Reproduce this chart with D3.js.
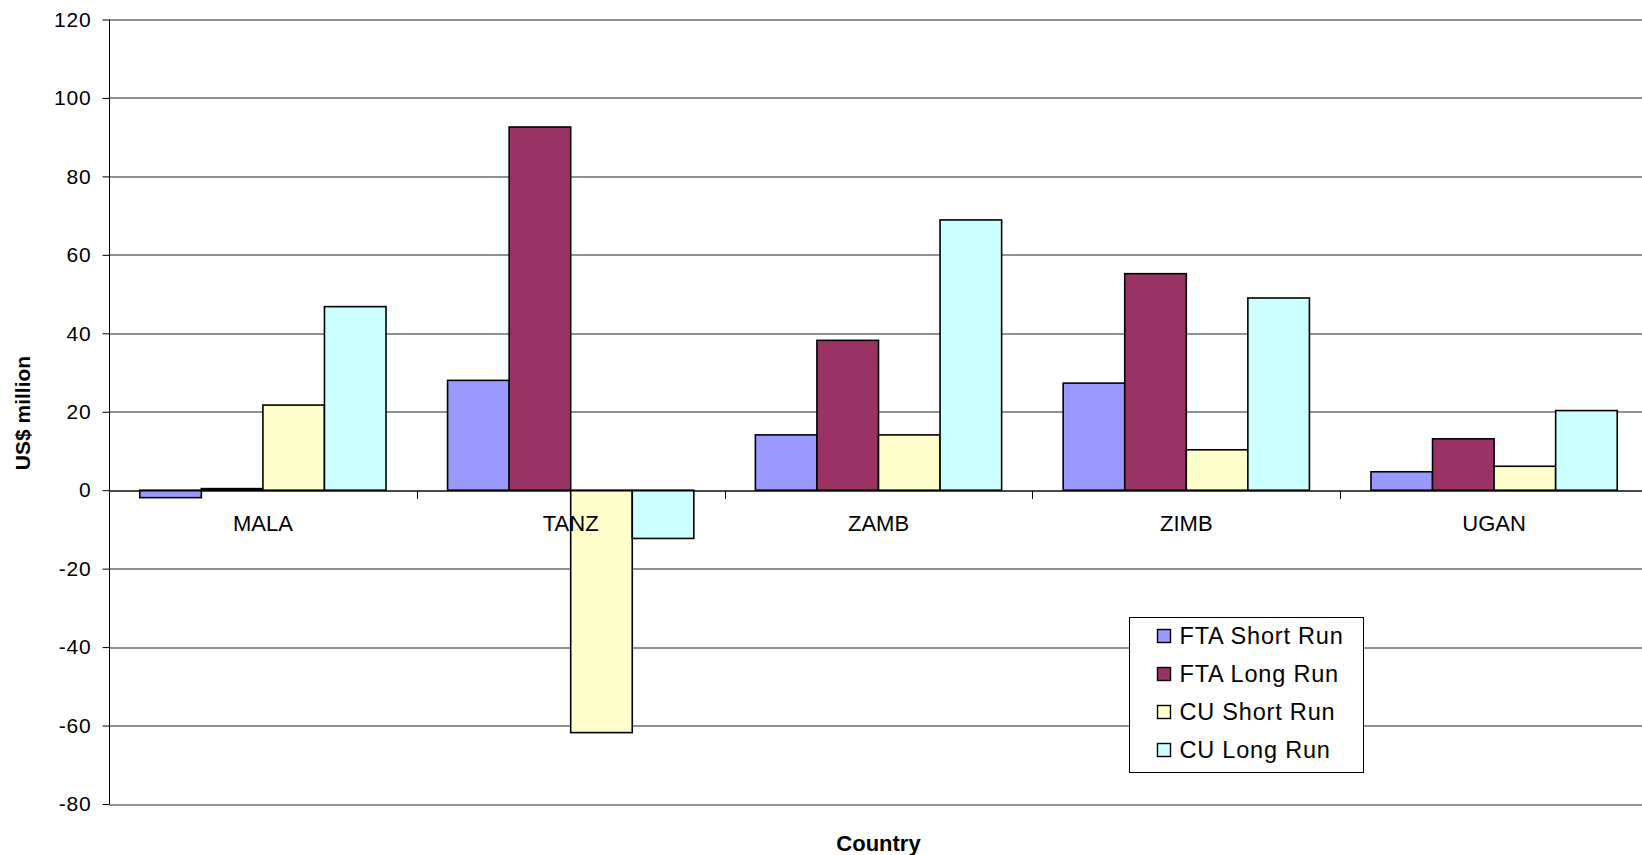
<!DOCTYPE html>
<html>
<head>
<meta charset="utf-8">
<script src="https://d3js.org/d3.v7.min.js"></script>
<style>
  body { margin: 0; background: #fff; }
  text { font-family: Arial, "Liberation Sans", sans-serif; fill: #000; }
</style>
</head>
<body>
<div id="chart"></div>
<script>
// data
var countries = ["MALA", "TANZ", "ZAMB", "ZIMB", "UGAN"];
var seriesNames = ["FTA Short Run", "FTA Long Run", "CU Short Run", "CU Long Run"];
var ftaShort = [-1.9, 28, 14.1, 27.3, 4.7];
var ftaLong = [0.4, 92.6, 38.2, 55.2, 13.1];
var cuShort = [21.7, -61.8, 14.1, 10.3, 6.1];
var cuLong = [46.8, -12.3, 68.9, 49.0, 20.3];
var yTicks = [-80, -60, -40, -20, 0, 20, 40, 60, 80, 100, 120];
var colors = ["#9999ff", "#993366", "#ffffcc", "#ccffff"];

var allSeries = [ftaShort, ftaLong, cuShort, cuLong];

// set the dimensions and margins of the graph
var margin = {top: 19.5, left: 109, right: 0, bottom: 51},
    fullWidth = 1642, fullHeight = 855,
    width = 1539,
    height = fullHeight - margin.top - margin.bottom;

var x0 = d3.scaleBand().domain(countries).range([0, width]).padding(0);
var x1 = d3.scaleBand().domain(seriesNames).range([0, x0.bandwidth()])
    .paddingInner(0).paddingOuter(0.5);
var y = d3.scaleLinear().domain([-80, 120]).range([height, 0]);

var svg = d3.select("#chart").append("svg")
    .attr("width", fullWidth)
    .attr("height", fullHeight)
    .append("g")
    .attr("transform", "translate(" + margin.left + "," + margin.top + ")");

// gridlines
svg.append("g").selectAll("line")
    .data(yTicks)
    .enter().append("line")
    .attr("x1", 0).attr("x2", width)
    .attr("y1", function (d) { return Math.round(y(d)) + 0.5; })
    .attr("y2", function (d) { return Math.round(y(d)) + 0.5; })
    .attr("stroke", "#222")
    .attr("stroke-width", 1);

// y axis
var yAxis = svg.append("g")
    .attr("transform", "translate(0.5,0)")
    .call(d3.axisLeft(y).tickValues(yTicks).tickSize(7).tickPadding(11)
        .tickFormat(function (d) { return String(d); }));
yAxis.selectAll("path, line").attr("stroke", "#000");
yAxis.selectAll("text").style("font-size", "21px")
    .style("letter-spacing", "0.8px")
    .style("font-family", "Arial, 'Liberation Sans', sans-serif");
yAxis.select(".domain").attr("d", "M0," + y(120) + "V" + y(-80));

// bars
var rows = countries.map(function (c, i) {
    return {country: c, values: seriesNames.map(function (s, j) {
        return {name: s, value: allSeries[j][i], color: colors[j]};
    })};
});

var groups = svg.append("g").selectAll("g")
    .data(rows)
    .enter().append("g")
    .attr("transform", function (d) { return "translate(" + x0(d.country) + ",0)"; });

groups.selectAll("rect")
    .data(function (d) { return d.values; })
    .enter().append("rect")
    .attr("x", function (d) { return x1(d.name); })
    .attr("width", x1.bandwidth())
    .attr("y", function (d) { return y(Math.max(0, d.value)); })
    .attr("height", function (d) { return Math.abs(y(d.value) - y(0)); })
    .attr("fill", function (d) { return d.color; })
    .attr("stroke", "#000")
    .attr("stroke-width", 1.6);

// zero line with category ticks
var xAxis = svg.append("g")
    .attr("transform", "translate(0," + (Math.round(y(0)) + 0.5) + ")");
xAxis.append("line")
    .attr("x1", 0).attr("x2", width)
    .attr("stroke", "#000");
xAxis.selectAll("line.tick")
    .data(countries.slice(1))
    .enter().append("line")
    .attr("class", "tick")
    .attr("x1", function (d) { return Math.round(x0(d)) + 0.5; })
    .attr("x2", function (d) { return Math.round(x0(d)) + 0.5; })
    .attr("y1", 0).attr("y2", 8)
    .attr("stroke", "#000");
xAxis.selectAll("text")
    .data(countries)
    .enter().append("text")
    .attr("x", function (d) { return x0(d) + x0.bandwidth() / 2; })
    .attr("y", 40)
    .style("text-anchor", "middle")
    .style("font-size", "22px")
    .text(function (d) { return d; });

// axis titles
svg.append("text")
    .attr("x", x0.range()[1] / 2)
    .attr("y", height + 47)
    .style("text-anchor", "middle")
    .style("font-size", "22px")
    .style("font-weight", "bold")
    .text("Country");

svg.append("text")
    .attr("transform", "rotate(-90)")
    .attr("x", -(413 - margin.top))
    .attr("y", -margin.left + 30)
    .style("text-anchor", "middle")
    .style("font-size", "21px")
    .style("font-weight", "bold")
    .text("US$ million");

// legend
var legend = svg.append("g")
    .attr("transform", "translate(" + (1129.5 - margin.left) + "," + (617.5 - margin.top) + ")");
legend.append("rect")
    .attr("width", 234).attr("height", 155)
    .attr("fill", "#fff")
    .attr("stroke", "#000")
    .attr("stroke-width", 1);
var items = legend.selectAll("g.item")
    .data(seriesNames)
    .enter().append("g")
    .attr("class", "item")
    .attr("transform", function (d, i) { return "translate(0," + (18 + i * 38) + ")"; });
items.append("rect")
    .attr("x", 28).attr("y", -6)
    .attr("width", 13).attr("height", 13)
    .attr("fill", function (d, i) { return colors[i]; })
    .attr("stroke", "#000")
    .attr("stroke-width", 1.4);
items.append("text")
    .attr("x", 50).attr("y", 0)
    .attr("dy", "0.35em")
    .style("font-size", "23.5px")
    .style("letter-spacing", "0.8px")
    .text(function (d) { return d; });
</script>
</body>
</html>
